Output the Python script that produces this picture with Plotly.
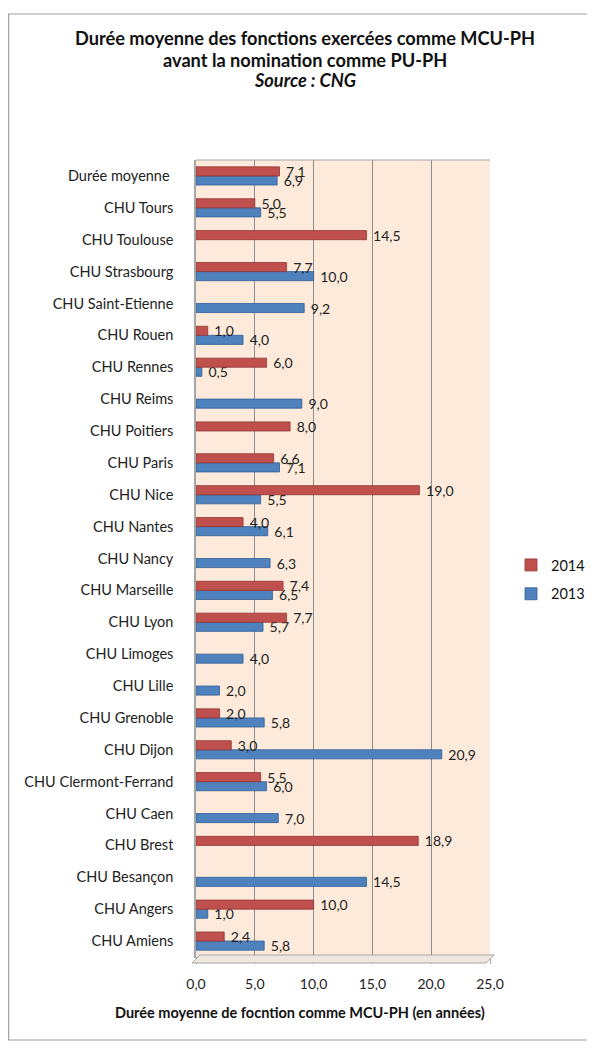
import plotly.graph_objects as go

categories = ["CHU Amiens", "CHU Angers", "CHU Besançon", "CHU Brest", "CHU Caen",
              "CHU Clermont-Ferrand", "CHU Dijon", "CHU Grenoble", "CHU Lille",
              "CHU Limoges", "CHU Lyon", "CHU Marseille", "CHU Nancy", "CHU Nantes",
              "CHU Nice", "CHU Paris", "CHU Poitiers", "CHU Reims", "CHU Rennes",
              "CHU Rouen", "CHU Saint-Etienne", "CHU Strasbourg", "CHU Toulouse",
              "CHU Tours", "Durée moyenne "]
v2014 = [2.4, 10.0, None, 18.9, None, 5.5, 3.0, 2.0, None, None, 7.7, 7.4, None, 4.0,
         19.0, 6.6, 8.0, None, 6.0, 1.0, None, 7.7, 14.5, 5.0, 7.1]
v2013 = [5.8, 1.0, 14.5, None, 7.0, 6.0, 20.9, 5.8, 2.0, 4.0, 5.7, 6.5, 6.3, 6.1,
         5.5, 7.1, None, 9.0, 0.5, 4.0, 9.2, 10.0, None, 5.5, 6.9]
xticks = [0, 5, 10, 15, 20, 25]

def fmt(v):
    return "" if v is None else " " + f"{v:.1f}".replace(".", ",")

FONT = "Lato"
# page has an 8px body margin, figure coordinates = page - 8
W, H = 587, 1040
L, R, T, B = 188, 105, 152, 91
pw, ph = W - L - R, H - T - B

def px2x(fx):
    return (fx - L) / pw

def py2y(fy):
    return (H - B - fy) / ph

fig = go.Figure()
fig.add_trace(go.Bar(y=categories, x=v2013, orientation="h", name="2013",
                     legendgroup="g2013", legendrank=2,
                     marker=dict(color="#4F81BD", line=dict(color="#2F5F99", width=0.8)),
                     text=[fmt(v) for v in v2013], textposition="outside",
                     constraintext="none",
                     textfont=dict(size=14, color="#222", family=FONT),
                     cliponaxis=False))
fig.add_trace(go.Bar(y=categories, x=v2014, orientation="h", name="2014",
                     legendgroup="g2014", legendrank=1,
                     marker=dict(color="#C0504D", line=dict(color="#923532", width=0.8)),
                     text=[fmt(v) for v in v2014], textposition="outside",
                     constraintext="none",
                     textfont=dict(size=14, color="#222", family=FONT),
                     cliponaxis=False))

fig.update_layout(
    width=W, height=H,
    margin=dict(l=L, r=R, t=T, b=B, autoexpand=False),
    barmode="group", bargap=0.43, bargroupgap=0.0,
    paper_bgcolor="white", plot_bgcolor="#FDEADA",
    separators=", ",
    font=dict(family=FONT, size=14, color="#222"),
    showlegend=True,
    legend=dict(x=503 / W, y=1 - 541 / H, xref="container", yref="container",
                xanchor="left", yanchor="top",
                traceorder="grouped", tracegroupgap=7,
                font=dict(size=14.5, family=FONT, color="#111"),
                bgcolor="rgba(0,0,0,0)", itemwidth=30),
    xaxis=dict(range=[0, 25], tickvals=xticks, tickformat=".1f",
               showgrid=True, gridcolor="#8C8C8C", gridwidth=1,
               zeroline=False, showline=True, linecolor="#A6A6A6",
               ticks="outside", tickcolor="#A6A6A6", ticklen=6,
               ticklabelstandoff=8,
               tickfont=dict(size=14, family=FONT, color="#222"),
               mirror=False),
    yaxis=dict(showgrid=False, showline=True, linecolor="#A6A6A6", linewidth=1.5,
               ticks="", tickfont=dict(size=14.5, family=FONT, color="#222"),
               ticklabelstandoff=18, automargin=False),
)

# title lines
title_lines = ["<b>Durée moyenne des fonctions exercées comme MCU-PH</b>",
               "<b>avant la nomination comme PU-PH</b>",
               "<b><i>Source : CNG</i></b>"]
for txt, fy in zip(title_lines, [30, 52, 72]):
    fig.add_annotation(text=txt, xref="paper", yref="paper", x=px2x(297), y=py2y(fy),
                       xanchor="center", yanchor="middle", showarrow=False,
                       font=dict(size=18.2, family=FONT, color="#111"))

# x-axis title
fig.add_annotation(text="<b>Durée moyenne de focntion comme MCU-PH (en années)</b>",
                   xref="paper", yref="paper", x=px2x(292), y=py2y(1004),
                   xanchor="center", yanchor="middle", showarrow=False,
                   font=dict(size=14.5, family=FONT, color="#111"))

fig.add_shape(type="line", xref="paper", yref="paper", x0=0, x1=1, y0=1, y1=1,
              line=dict(color="#A6A6A6", width=1))
# floor of the 3D box
fig.add_shape(type="path", xref="paper", yref="paper",
              path=f"M {px2x(L+4)},{py2y(H-B-2)} L {px2x(W-R+4)},{py2y(H-B-2)} "
                   f"L {px2x(W-R-4)},{py2y(H-B+6)} L {px2x(L-4)},{py2y(H-B+6)} Z",
              fillcolor="#EFE6DD", line=dict(color="#A6A6A6", width=1), layer="above")
# outer chart border
fig.add_shape(type="rect", xref="paper", yref="paper",
              x0=px2x(0.6), x1=px2x(W + 10), y0=py2y(1032), y1=py2y(6),
              line=dict(color="#A0A0A0", width=1.2), fillcolor="rgba(0,0,0,0)", layer="below")

fig.write_html("out.html")
